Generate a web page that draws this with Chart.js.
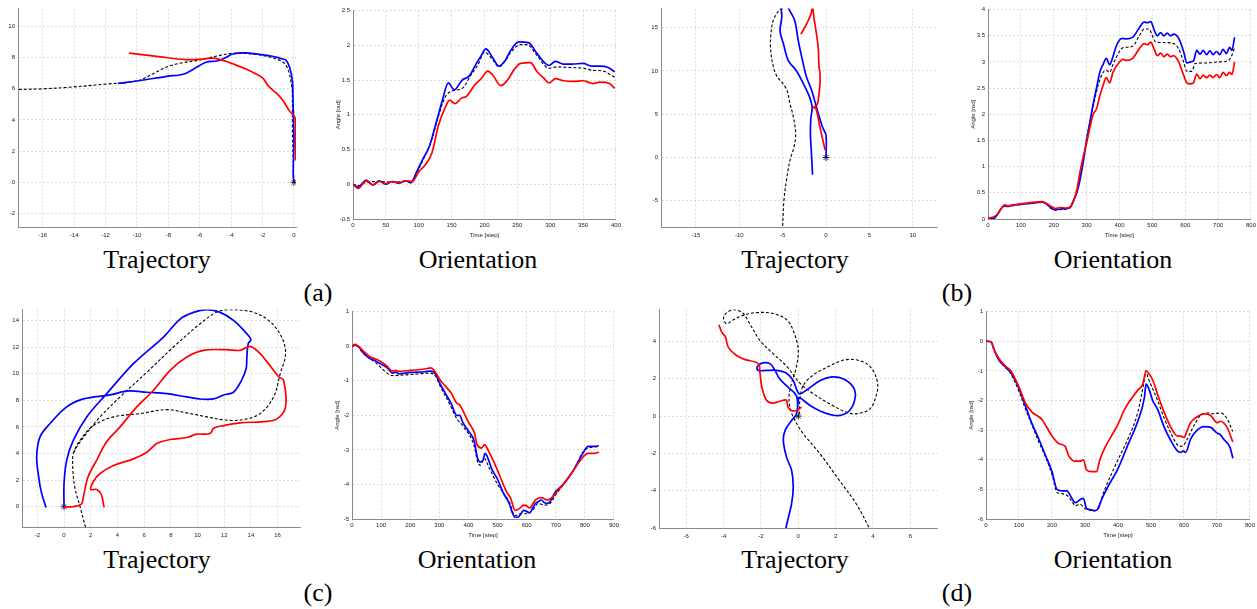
<!DOCTYPE html>
<html><head><meta charset="utf-8">
<script src="https://cdn.jsdelivr.net/npm/chart.js@4.4.1/dist/chart.umd.min.js"></script>
<style>
html,body{margin:0;padding:0;background:#fff;width:1257px;height:609px;overflow:hidden;position:relative}
canvas{position:absolute}
.t{position:absolute;font-family:"Liberation Serif","Times New Roman",serif;font-size:26px;color:#000;transform:translate(-50%,-50%);white-space:nowrap;line-height:1}
</style></head><body>
<div class="t" style="left:157px;top:260px">Trajectory</div>
<div class="t" style="left:478px;top:260px">Orientation</div>
<div class="t" style="left:318px;top:293px">(a)</div>
<div class="t" style="left:795px;top:260px">Trajectory</div>
<div class="t" style="left:1113px;top:260px">Orientation</div>
<div class="t" style="left:957px;top:293px">(b)</div>
<div class="t" style="left:157px;top:560px">Trajectory</div>
<div class="t" style="left:477px;top:560px">Orientation</div>
<div class="t" style="left:318px;top:593px">(c)</div>
<div class="t" style="left:795px;top:560px">Trajectory</div>
<div class="t" style="left:1113px;top:560px">Orientation</div>
<div class="t" style="left:957px;top:593px">(d)</div>
<script>
// ---------- (a) ----------
const aTrajGT=[[0,0],[-0.05,1.5],[-0.1,3.5],[-0.1,5.0],[-0.15,6.2],[-0.5,7.5],[-1.1,7.9],[-2.4,8.2],[-3.9,8.28],[-4.9,8.1],[-6.0,7.85],[-7.2,7.65],[-8.1,7.4],[-9.0,6.95],[-10.0,6.5],[-12.0,6.3],[-14.3,6.1],[-16.0,6.0],[-17.8,5.95]];
const aTrajBlue=[[0,0],[-0.05,0.5],[0,2.7],[-0.06,5.25],[-0.1,6.5],[-0.28,7.4],[-0.53,7.85],[-0.8,7.93],[-1.0,8.0],[-1.45,8.1],[-2.2,8.2],[-3.1,8.3],[-3.9,8.23],[-4.3,8.02],[-4.85,7.8],[-5.6,7.7],[-6.0,7.5],[-7.0,6.95],[-8.1,6.8],[-10.0,6.5],[-11.2,6.35]];
const aTrajRed=[[0.1,1.4],[0.12,2.5],[0.08,4.1],[-0.3,4.6],[-0.7,5.25],[-1.1,5.7],[-1.65,6.2],[-2.0,6.7],[-2.6,7.05],[-3.1,7.28],[-3.9,7.6],[-4.3,7.75],[-5.15,7.96],[-5.8,7.9],[-6.9,7.87],[-8.6,8.06],[-10.5,8.28]];
const aOriGT=[[0,0],[10,-0.02],[20,0.03],[40,0.04],[60,0.03],[80,0.04],[90,0.05],[100,0.22],[110,0.42],[120,0.65],[130,0.98],[140,1.25],[150,1.34],[166,1.38],[180,1.58],[190,1.72],[200,1.9],[212,1.8],[222,1.69],[232,1.78],[240,1.9],[255,2.01],[265,2.01],[280,1.85],[298,1.67],[310,1.69],[330,1.68],[350,1.67],[365,1.64],[380,1.63],[398,1.54]];
const aOriBlue=[[0,0],[8,-0.04],[20,0.06],[30,-0.01],[40,0.05],[50,0],[60,0.04],[70,0.015],[80,0.05],[88,0.02],[96,0.16],[106,0.36],[116,0.54],[126,0.87],[136,1.21],[145,1.46],[154,1.36],[166,1.5],[177,1.56],[187,1.73],[195,1.85],[202,1.95],[212,1.83],[222,1.70],[232,1.79],[240,1.93],[252,2.05],[267,2.04],[280,1.88],[298,1.71],[308,1.77],[320,1.73],[333,1.73],[350,1.74],[363,1.70],[376,1.70],[388,1.68],[398,1.62]];
const aOriRed=[[0,0],[8,-0.06],[20,0.05],[30,-0.01],[40,0.04],[50,0.01],[60,0.04],[70,0.02],[80,0.05],[90,0.04],[100,0.18],[110,0.28],[120,0.45],[130,0.85],[140,1.1],[147,1.21],[155,1.16],[165,1.24],[173,1.27],[185,1.43],[195,1.52],[205,1.63],[212,1.58],[225,1.42],[235,1.5],[245,1.65],[255,1.74],[270,1.75],[280,1.62],[290,1.53],[298,1.46],[308,1.52],[320,1.49],[335,1.48],[350,1.49],[365,1.45],[375,1.47],[390,1.45],[398,1.38]];
// ---------- (b) ----------
const bTrajGT=[[-5.0,-8.5],[-5.0,-8.05],[-4.85,-4.9],[-4.5,-2.2],[-4.15,-0.3],[-3.7,1.2],[-3.5,2.75],[-3.77,4.7],[-4.15,6.2],[-4.5,7.75],[-5.1,8.7],[-5.7,9.45],[-6.15,10.8],[-6.4,12.7],[-6.35,14.25],[-6.1,15.8],[-5.5,16.9],[-5.1,17.3],[-4.9,17.6]];
const bTrajBlue=[[0,0],[0,2.55],[-0.4,3.5],[-1.1,5.8],[-1.65,7.75],[-2.25,9.3],[-2.8,11.6],[-3.2,13.5],[-3.6,15.8],[-4.15,16.9],[-4.5,17.4],[-5.1,17.3],[-5.1,16.2],[-5.3,14.6],[-4.9,13.1],[-4.35,11.2],[-3.4,10.0],[-2.6,8.5],[-1.9,7.0],[-1.6,5.8],[-1.75,4.5],[-1.8,2.75],[-1.7,0.85],[-1.55,-2.0]];
const bTrajRed=[[-0.1,0.85],[-0.7,3.5],[-1.15,5.6],[-1.45,5.8],[-1.1,6.0],[-0.9,6.6],[-0.7,8.5],[-0.7,9.85],[-0.8,10.4],[-0.9,12.7],[-1.1,14.25],[-1.4,16.2],[-1.55,17.3],[-1.75,16.55],[-2.25,15.4],[-2.9,14.25]];
const bOriGT=[[0,0.01],[20,0.02],[30,0.1],[40,0.2],[50,0.25],[60,0.24],[100,0.28],[165,0.32],[175,0.3],[190,0.21],[205,0.17],[220,0.18],[240,0.19],[250,0.22],[260,0.36],[270,0.52],[280,0.8],[290,1.15],[300,1.55],[310,1.85],[320,2.15],[335,2.55],[350,2.8],[360,2.84],[370,2.8],[380,2.95],[400,3.2],[410,3.27],[440,3.3],[460,3.5],[475,3.63],[490,3.63],[500,3.5],[510,3.38],[540,3.37],[565,3.35],[580,3.25],[595,3.0],[605,2.82],[620,2.82],[630,2.97],[660,2.98],[700,3.0],[730,3.02],[740,3.1],[750,3.27]];
const bOriBlue=[[0,0.01],[20,0.02],[30,0.1],[40,0.2],[50,0.25],[60,0.24],[70,0.26],[100,0.28],[130,0.3],[165,0.32],[175,0.3],[190,0.22],[205,0.18],[220,0.19],[240,0.2],[250,0.22],[260,0.35],[270,0.5],[280,0.75],[290,1.1],[300,1.5],[310,1.85],[320,2.2],[330,2.5],[340,2.8],[350,2.95],[360,3.07],[370,2.95],[380,3.1],[390,3.3],[400,3.42],[410,3.45],[420,3.44],[440,3.47],[460,3.65],[475,3.76],[485,3.75],[495,3.77],[505,3.62],[515,3.5],[525,3.56],[535,3.5],[545,3.55],[555,3.5],[565,3.53],[580,3.45],[595,3.2],[605,2.98],[615,3.0],[625,3.02],[635,3.22],[645,3.15],[655,3.22],[665,3.14],[675,3.21],[685,3.14],[695,3.2],[705,3.14],[715,3.24],[725,3.16],[735,3.28],[742,3.22],[750,3.47]];
const bOriRed=[[0,0.01],[20,0.05],[30,0.1],[40,0.2],[50,0.27],[60,0.25],[100,0.29],[165,0.33],[190,0.25],[205,0.2],[220,0.22],[240,0.21],[250,0.23],[270,0.55],[280,0.9],[290,1.2],[300,1.45],[310,1.75],[320,2.0],[330,2.1],[340,2.35],[350,2.55],[360,2.7],[370,2.6],[380,2.8],[400,3.0],[410,3.05],[420,3.03],[440,3.07],[460,3.25],[475,3.35],[485,3.33],[495,3.38],[505,3.25],[515,3.12],[525,3.17],[535,3.1],[545,3.15],[555,3.1],[565,3.12],[580,3.0],[595,2.75],[605,2.6],[615,2.58],[625,2.6],[635,2.77],[645,2.68],[655,2.75],[665,2.7],[675,2.75],[685,2.7],[695,2.76],[705,2.7],[715,2.8],[725,2.74],[735,2.8],[742,2.76],[750,3.0]];
// ---------- (c) ----------
const cTrajGT=[[1.75,-1.9],[1.6,-1.5],[1.2,0],[0.8,1.5],[0.65,3.0],[0.7,4.0],[1.2,5.0],[2.2,6.1],[3.7,6.75],[5.7,7.0],[7.7,7.3],[9.2,7.05],[10.7,6.75],[12.2,6.5],[13.45,6.55],[14.7,7.0],[15.7,8.25],[16.2,10.0],[16.6,11.5],[16.3,12.75],[15.45,13.9],[14.2,14.6],[12.7,14.8],[11.6,14.7],[10.2,13.75],[8.2,12.0],[6.2,10.1],[4.2,8.25],[2.7,6.75],[1.6,5.4],[0.95,4.5],[0.75,4.1]];
const cTrajBlue=[[0,0],[0,1.75],[0.2,3.5],[0.7,5.0],[1.7,6.75],[3.2,8.5],[5.2,10.75],[7.45,12.75],[8.7,14.1],[9.7,14.6],[10.7,14.8],[11.7,14.6],[12.7,14.0],[13.6,13.1],[14.0,12.55],[13.8,12.25],[13.7,11.25],[13.65,10.4],[13.3,9.5],[12.7,8.6],[11.95,8.4],[11.2,8.1],[10.1,8.1],[9.2,8.25],[7.7,8.5],[6.2,8.6],[4.8,8.7],[3.45,8.4],[1.45,8.1],[0.2,7.5],[-1.05,6.25],[-1.8,5.25],[-2.05,3.75],[-1.9,2.25],[-1.7,1.1],[-1.35,-0.05]];
const cTrajRed=[[0,0],[0.6,0],[1.3,0.2],[1.45,0.75],[1.8,2.25],[2.45,3.5],[3.2,4.9],[4.2,6.0],[5.45,7.5],[6.7,8.75],[7.95,10.25],[9.2,11.25],[10.45,11.75],[12.2,11.8],[13.2,11.75],[13.95,12.05],[14.6,11.6],[15.2,10.9],[16.1,9.75],[16.45,9.5],[16.6,7.5],[15.95,6.6],[14.95,6.4],[13.2,6.3],[11.95,6.1],[11.2,5.9],[10.95,5.5],[9.95,5.45],[9.2,5.2],[7.95,5.05],[6.95,4.75],[6.2,4.1],[5.2,3.6],[3.7,3.1],[2.7,2.5],[2.2,1.9],[2.0,1.3],[2.45,1.3],[2.8,0.9],[3.0,-0.05]];
const cOriGT=[[0,0],[10,0.03],[40,-0.22],[80,-0.47],[140,-0.85],[200,-0.82],[270,-0.78],[290,-0.9],[300,-1.1],[340,-1.75],[360,-2.1],[380,-2.3],[420,-2.9],[430,-3.3],[440,-3.45],[455,-3.25],[470,-3.5],[500,-4.0],[520,-4.25],[540,-4.5],[560,-4.9],[580,-4.85],[600,-4.85],[620,-4.75],[640,-4.55],[660,-4.6],[680,-4.55],[700,-4.3],[760,-3.6],[800,-3.0],[848,-2.9]];
const cOriBlue=[[0,0],[10,0.03],[20,0],[40,-0.2],[60,-0.35],[80,-0.42],[100,-0.52],[120,-0.62],[140,-0.78],[150,-0.75],[160,-0.8],[200,-0.76],[250,-0.74],[270,-0.72],[280,-0.75],[290,-0.85],[300,-1.05],[320,-1.35],[340,-1.65],[360,-2.0],[370,-2.0],[380,-2.2],[400,-2.45],[420,-2.75],[430,-3.2],[440,-3.35],[450,-3.3],[457,-3.1],[465,-3.2],[480,-3.55],[500,-3.85],[520,-4.25],[540,-4.55],[550,-4.8],[560,-4.95],[570,-4.95],[580,-4.85],[590,-4.75],[600,-4.78],[610,-4.82],[620,-4.7],[630,-4.55],[640,-4.5],[650,-4.45],[660,-4.52],[670,-4.55],[680,-4.5],[690,-4.35],[700,-4.2],[720,-4.05],[740,-3.85],[760,-3.6],[780,-3.3],[800,-3.0],[810,-2.9],[830,-2.9],[848,-2.88]];
const cOriRed=[[0,0],[10,0.05],[40,-0.15],[60,-0.3],[80,-0.37],[100,-0.45],[120,-0.58],[140,-0.72],[150,-0.7],[160,-0.73],[200,-0.7],[250,-0.66],[270,-0.63],[280,-0.68],[290,-0.8],[300,-0.95],[320,-1.15],[340,-1.35],[360,-1.65],[370,-1.7],[400,-2.2],[420,-2.5],[430,-2.85],[445,-2.95],[455,-2.85],[470,-3.05],[490,-3.4],[510,-3.8],[530,-4.2],[545,-4.4],[560,-4.75],[575,-4.7],[590,-4.6],[600,-4.62],[610,-4.68],[630,-4.45],[650,-4.38],[670,-4.45],[690,-4.35],[710,-4.15],[730,-3.95],[760,-3.6],[780,-3.35],[800,-3.15],[810,-3.1],[830,-3.1],[848,-3.07]];
// ---------- (d) ----------
const dTrajGT=[[0.05,0.1],[0.1,1.0],[0.27,1.65],[0.8,2.2],[1.7,2.7],[2.6,3.03],[3.5,2.9],[4.0,2.45],[4.25,1.75],[4.2,1.2],[3.85,0.4],[3.1,0.12],[2.6,0.2],[1.7,0.65],[0.8,1.2],[0.1,1.75],[-0.6,2.65],[-1.35,3.35],[-2.05,4.05],[-2.6,4.95],[-2.95,5.5],[-3.4,5.7],[-3.75,5.6],[-4.0,5.3],[-3.85,4.95],[-3.5,5.15],[-2.95,5.4],[-2.25,5.55],[-1.35,5.5],[-0.6,5.15],[-0.2,4.4],[0,3.55],[-0.1,2.65],[-0.45,1.4],[-0.48,0.65],[-0.27,-0.05],[0.27,-0.95],[1.15,-2.0],[2.2,-3.45],[3.1,-4.7],[3.8,-6.0],[3.9,-6.3]];
const dTrajBlue=[[-0.66,-6.3],[-0.66,-6.0],[-0.36,-4.7],[-0.27,-3.8],[-0.36,-2.9],[-0.63,-2.2],[-0.8,-1.3],[-0.7,-0.75],[-0.36,-0.23],[-0.1,0.1],[0,0.85],[0.05,1.0],[0.63,0.57],[1.35,0.2],[2.15,0.03],[2.75,0.3],[3.05,1.0],[2.95,1.55],[2.4,2.0],[1.8,2.1],[1.15,1.9],[0.45,1.4],[0.05,1.2],[-0.27,1.9],[-0.63,2.3],[-1.15,2.45],[-1.7,2.45],[-2.15,2.45],[-2.2,2.65],[-1.9,2.85],[-1.5,2.8],[-1.25,2.45],[-1.0,2.0],[-0.55,1.55],[-0.1,1.1],[-0.03,0.3]];
const dTrajRed=[[0.18,0.48],[-0.1,0.3],[-0.36,0.3],[-0.55,0.48],[-0.63,0.85],[-0.8,0.85],[-1.35,0.7],[-1.7,0.85],[-1.95,1.55],[-2.05,2.3],[-2.1,2.75],[-2.3,2.9],[-2.85,3.03],[-3.3,3.25],[-3.75,3.7],[-3.9,4.25],[-4.1,4.5],[-4.25,4.9]];
const dOriGT=[[0,0],[15,-0.02],[25,-0.3],[40,-0.65],[60,-0.9],[75,-1.1],[100,-1.7],[120,-2.3],[140,-2.85],[160,-3.4],[180,-3.9],[200,-4.5],[215,-5.1],[230,-5.15],[245,-5.2],[260,-5.4],[270,-5.55],[285,-5.5],[300,-5.65],[315,-5.7],[330,-5.72],[340,-5.6],[360,-5.0],[400,-4.0],[430,-3.3],[460,-2.4],[480,-1.3],[485,-1.0],[490,-1.2],[505,-1.6],[520,-2.0],[540,-2.6],[560,-3.1],[580,-3.5],[590,-3.55],[600,-3.5],[610,-3.3],[630,-2.85],[650,-2.5],[670,-2.42],[690,-2.45],[710,-2.42],[730,-2.6],[748,-3.05]];
const dOriBlue=[[0,0],[15,-0.02],[25,-0.3],[40,-0.65],[60,-0.88],[75,-1.05],[100,-1.6],[120,-2.2],[140,-2.8],[160,-3.3],[180,-3.85],[200,-4.4],[215,-5.0],[230,-5.05],[245,-5.05],[260,-5.3],[270,-5.45],[285,-5.35],[295,-5.3],[305,-5.65],[315,-5.68],[330,-5.72],[340,-5.65],[350,-5.35],[370,-4.9],[400,-4.3],[430,-3.5],[460,-2.7],[480,-1.9],[485,-1.45],[495,-1.65],[505,-2.0],[520,-2.3],[540,-2.9],[560,-3.35],[580,-3.7],[590,-3.75],[598,-3.7],[605,-3.75],[620,-3.3],[640,-3.0],[660,-2.88],[680,-2.9],[700,-3.1],[710,-3.15],[720,-3.3],[740,-3.6],[748,-3.95]];
const dOriRed=[[0,0],[15,-0.02],[25,-0.3],[40,-0.6],[60,-0.85],[75,-1.0],[100,-1.55],[120,-2.1],[140,-2.4],[160,-2.55],[170,-2.65],[200,-3.2],[220,-3.45],[240,-3.55],[250,-3.85],[270,-4.05],[285,-4.05],[295,-4.0],[305,-4.35],[320,-4.4],[335,-4.4],[345,-4.0],[360,-3.6],[380,-3.2],[400,-2.8],[420,-2.3],[440,-1.95],[460,-1.65],[475,-1.45],[485,-1.0],[495,-1.12],[505,-1.3],[520,-1.8],[540,-2.4],[560,-2.9],[580,-3.2],[590,-3.2],[600,-3.25],[610,-3.0],[620,-2.75],[640,-2.55],[660,-2.45],[680,-2.5],[700,-2.75],[710,-2.7],[730,-2.9],[748,-3.4]];
const startMark=[[0,0]];
// ---------- tick labels ----------
const aTrajXTicks=[-16,-14,-12,-10,-8,-6,-4,-2,0], aTrajYTicks=[-2,0,2,4,6,8,10];
const aOriXTicks=[0,50,100,150,200,250,300,350,400], aOriYTicks=[-0.5,0,0.5,1,1.5,2,2.5];
const bTrajXTicks=[-15,-10,-5,0,5,10], bTrajYTicks=[-5,0,5,10,15];
const bOriXTicks=[0,100,200,300,400,500,600,700,800], bOriYTicks=[0,0.5,1,1.5,2,2.5,3,3.5,4];
const cTrajXTicks=[-2,0,2,4,6,8,10,12,14,16], cTrajYTicks=[0,2,4,6,8,10,12,14];
const cOriXTicks=[0,100,200,300,400,500,600,700,800,900], cOriYTicks=[-5,-4,-3,-2,-1,0,1];
const dTrajXTicks=[-6,-4,-2,0,2,4,6], dTrajYTicks=[-6,-4,-2,0,2,4];
const dOriXTicks=[0,100,200,300,400,500,600,700,800], dOriYTicks=[-6,-5,-4,-3,-2,-1,0,1];

const panels=[
 {rect:[18,8,296,227],x:[-17.58,0.13],y:[-2.86,11.14],xt:aTrajXTicks,yt:aTrajYTicks,gt:aTrajGT,blue:aTrajBlue,red:aTrajRed,ori:false},
 {rect:[353,10,618,219],x:[0,400],y:[-0.5,2.5],xt:aOriXTicks,yt:aOriYTicks,gt:aOriGT,blue:aOriBlue,red:aOriRed,ori:true},
 {rect:[661,8,937,227],x:[-19.03,12.8],y:[-8.03,17.2],xt:bTrajXTicks,yt:bTrajYTicks,gt:bTrajGT,blue:bTrajBlue,red:bTrajRed,ori:false},
 {rect:[988,9,1253,219],x:[0,800],y:[0,4],xt:bOriXTicks,yt:bOriYTicks,gt:bOriGT,blue:bOriBlue,red:bOriRed,ori:true},
 {rect:[22,309,300,527],x:[-3.15,17.68],y:[-1.52,14.81],xt:cTrajXTicks,yt:cTrajYTicks,gt:cTrajGT,blue:cTrajBlue,red:cTrajRed,ori:false},
 {rect:[352,311,616,519],x:[0,900],y:[-5,1],xt:cOriXTicks,yt:cOriYTicks,gt:cOriGT,blue:cOriBlue,red:cOriRed,ori:true},
 {rect:[659,309,937,528],x:[-7.46,7.43],y:[-6,5.71],xt:dTrajXTicks,yt:dTrajYTicks,gt:dTrajGT,blue:dTrajBlue,red:dTrajRed,ori:false},
 {rect:[986,311,1252,519],x:[0,800],y:[-6,1],xt:dOriXTicks,yt:dOriYTicks,gt:dOriGT,blue:dOriBlue,red:dOriRed,ori:true}
];

const toPts=a=>a.map(p=>({x:p[0],y:p[1]}));
const tickFont={family:'"Liberation Sans",Arial,sans-serif',size:6};

panels.forEach(p=>{
  const PADL=40,PADT=6,PADR=6,XH=p.ori?26:20;
  const [L,T,R,B]=p.rect;
  const w=R-L+PADL+PADR,h=B-T+PADT+XH;
  const c=document.createElement('canvas');
  c.width=w;c.height=h;
  c.style.left=(L-PADL)+'px';c.style.top=(T-PADT)+'px';
  c.style.width=w+'px';c.style.height=h+'px';
  document.body.appendChild(c);
  const line=(d,col,wd,dash)=>({data:toPts(d),showLine:true,borderColor:col,backgroundColor:col,borderWidth:wd,borderDash:dash||[],pointRadius:0,
    tension:p.ori?0:0.35,cubicInterpolationMode:p.ori?'monotone':'default',fill:false});
  const ds=[line(p.red,'#ff0000',1.7),line(p.blue,'#0000ff',1.7),line(p.gt,'#000000',1.1,[3,2])];
  if(!p.ori) ds.push({data:toPts(startMark),showLine:false,pointStyle:'star',pointRadius:3.5,borderColor:'#000',borderWidth:0.8,backgroundColor:'#000'});
  const mkScale=(lim,ticks,isX)=>({
    type:'linear',min:lim[0],max:lim[1],
    afterFit:s=>{ if(isX) s.height=XH; else s.width=PADL; },
    afterBuildTicks:s=>{ s.ticks=ticks.map(v=>({value:v})); },
    grid:{color:'#d4d4d4',lineWidth:0.8,drawTicks:false},
    border:{display:true,color:'#8a8a8a',width:1,dash:[2,2]},
    ticks:{font:tickFont,color:'#222',padding:isX?(p.ori?3:5):3,maxRotation:0,autoSkip:false,callback:v=>String(v)},
    title:isX?{display:p.ori,text:'Time [step]',font:tickFont,color:'#222',padding:{top:0,bottom:6}}
            :{display:p.ori,text:'Angle [rad]',font:tickFont,color:'#222',padding:{top:22,bottom:0}}
  });
  new Chart(c,{type:'scatter',data:{datasets:ds},options:{
    responsive:false,animation:false,devicePixelRatio:1,
    layout:{padding:{left:0,top:PADT,right:PADR,bottom:0}},
    plugins:{legend:{display:false},tooltip:{enabled:false}},
    scales:{x:mkScale(p.x,p.xt,true),y:mkScale(p.y,p.yt,false)}
  }});
});
</script>
</body></html>
